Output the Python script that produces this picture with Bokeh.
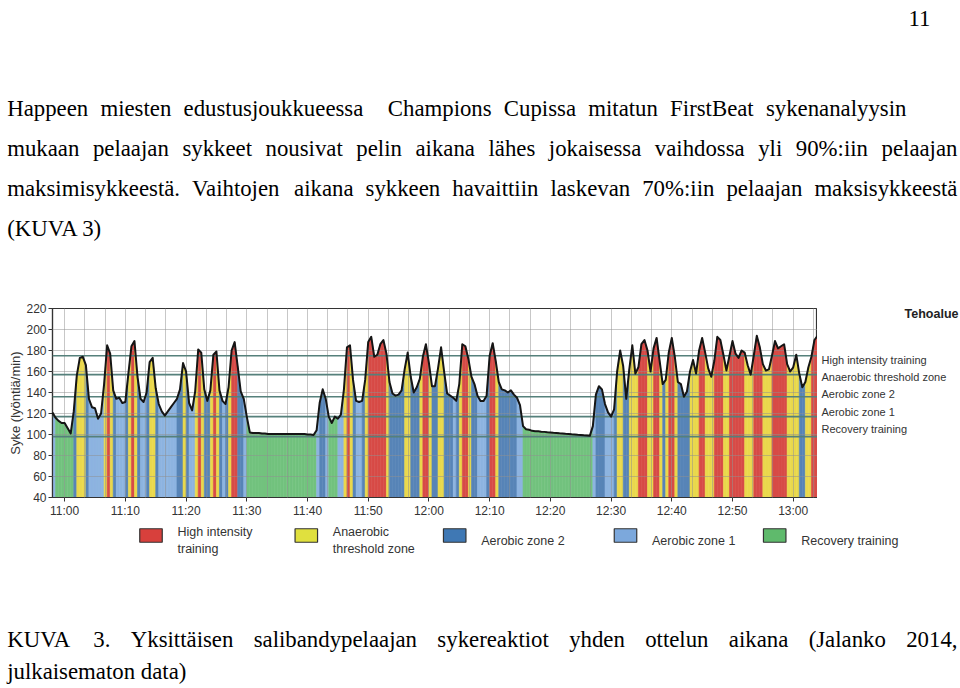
import numpy as np
from bokeh.plotting import figure
from bokeh.models import ColumnDataSource, Range1d, FixedTicker, Span
from bokeh.layouts import column, row
from bokeh.embed import file_html
from bokeh.resources import INLINE
from bokeh.core.properties import value

# ---------------- data ----------------
start_min = -2.0          # minutes relative to 11:00
step_min = 0.5
hr_pre  = [121, 116, 113, 111]
hr_1100 = [111, 106, 101, 122, 156, 173, 174, 166, 134, 126, 125, 115, 120, 148, 185, 177, 142, 134, 135, 130]
hr_1110 = [131, 158, 184, 189, 155, 134, 131, 140, 169, 173, 144, 129, 122, 118, 122, 126, 130, 134, 143, 168]
hr_1120 = [160, 130, 123, 141, 181, 178, 143, 132, 142, 176, 179, 142, 132, 129, 145, 180, 188, 165, 141, 134]
hr_1130 = [117, 102, 101.5, 101.5, 101.5, 101, 101, 100.5, 100.5, 100.5, 100.5, 100.5, 100.5, 100.5, 100.5,
           100.5, 100.5, 100.5, 100.5, 100.5]
hr_1140 = [100, 100, 99.5, 104, 130, 143, 134, 117, 111, 117, 115, 119, 143, 183, 185, 152, 132, 131, 132, 152]
hr_1150 = [188, 193, 174, 176, 186, 190, 177, 150, 139, 137, 138, 142, 162, 178, 155, 140, 145, 153, 174, 186]
hr_1200 = [168, 146, 146, 163, 183, 160, 139, 137, 135, 132, 148, 186, 184, 172, 155, 148, 137, 132, 132, 137]
hr_1210 = [175, 187, 170, 150, 143, 142, 140, 142, 138, 135, 128, 108, 105, 104.5, 103.5, 103.2, 103, 102.7,
           102.5, 102.2]
hr_1220 = [102, 101.7, 101.5, 101.2, 101, 100.7, 100.5, 100.2, 100, 99.7, 99.5, 99.2, 99, 98.7, 108, 138, 146,
           143, 129, 121]
hr_1230 = [117, 124, 160, 180, 165, 134, 162, 185, 158, 164, 186, 190, 180, 160, 182, 192, 170, 148, 152, 178]
hr_1240 = [192, 174, 150, 148, 136, 141, 160, 171, 158, 180, 192, 178, 163, 155, 170, 193, 190, 176, 161, 175]
hr_1250 = [189, 177, 173, 180, 178, 166, 157, 175, 194, 183, 167, 161, 162, 175, 189, 182, 184, 186, 167, 160]
hr_1300 = [164, 176, 158, 145, 150, 164, 174, 190, 194]

zone_names = ["High intensity training", "Anaerobic threshold zone", "Aerobic zone 2",
              "Aerobic zone 1", "Recovery training"]
zone_lower = [175, 157, 136, 117, 98]
legend_labels = ["High intensity\ntraining", "Anaerobic\nthreshold zone", "Aerobic zone 2",
                 "Aerobic zone 1", "Recovery training"]
tick_minutes = [0, 10, 20, 30, 40, 50, 60, 70, 80, 90, 100, 110, 120]
tick_labels = ["11:00", "11:10", "11:20", "11:30", "11:40", "11:50", "12:00", "12:10", "12:20",
               "12:30", "12:40", "12:50", "13:00"]
y_ticks = [40, 60, 80, 100, 120, 140, 160, 180, 200, 220]

para_lines = [
    "Happeen miesten edustusjoukkueessa  Champions Cupissa mitatun FirstBeat sykenanalyysin",
    "mukaan pelaajan sykkeet nousivat pelin aikana lähes jokaisessa vaihdossa yli 90%:iin pelaajan",
    "maksimisykkeestä. Vaihtojen aikana sykkeen havaittiin laskevan 70%:iin pelaajan maksisykkeestä",
    "(KUVA 3)",
]
caption_lines = [
    "KUVA 3. Yksittäisen salibandypelaajan sykereaktiot yhden ottelun aikana (Jalanko 2014,",
    "julkaisematon data)",
]
page_number = "11"

# ---------------- styles / layout ----------------
zone_colors = ["#d74b47", "#ead84c", "#5784b7", "#8db4e0", "#72c27e"]
legend_colors = ["#d8403c", "#e0e03e", "#3f78b4", "#7ca8dc", "#5fba6c"]
SANS = "Liberation Sans"
SERIF = "Liberation Serif"
TXT = "#333333"

W = 960
A_H, B_H, C_H = 298, 222, 168
B_W = 817
D_W = W - B_W
B_LEFT, B_TOP, B_BOTTOM = 52, 10, 23
X0, X1, Y0, Y1 = -2, 124, 40, 220

# Times / Liberation Serif advance widths (per 1000 em), used to justify lines
TIMES = dict(a=444, b=500, c=444, d=500, e=444, f=333, g=500, h=500, i=278, j=278, k=500, l=278, m=778,
             n=500, o=500, p=500, q=500, r=333, s=389, t=278, u=500, v=500, w=722, x=500, y=500, z=444,
             A=722, B=667, C=667, D=722, E=611, F=556, G=722, H=722, I=333, J=389, K=722, L=611, M=889,
             N=722, O=722, P=556, Q=722, R=667, S=556, T=611, U=722, V=722, W=944, X=722, Y=722, Z=611)
TIMES.update({"ä": 444, "ö": 500, ".": 250, ",": 250, ":": 278, "%": 833, "(": 333, ")": 333, " ": 250})
for dgt in "0123456789":
    TIMES[dgt] = 500

FS = 22.8
LEFT_MARGIN = 6.7


def place_words(line, x0, x1, y, fs, out):
    if x1 is None:
        out["x"].append(x0); out["y"].append(y); out["text"].append(line)
        return
    words = line.split(" ")
    widths = [sum(TIMES.get(ch, 500) for ch in w) * fs / 1000.0 for w in words]
    gap = (x1 - x0 - sum(widths)) / (len(words) - 1)
    x = x0
    for w, wd in zip(words, widths):
        if w:
            out["x"].append(x); out["y"].append(y); out["text"].append(w)
        x += wd + gap


def text_fig(w, h):
    f = figure(width=w, height=h, x_range=Range1d(0, w), y_range=Range1d(h, 0),
               x_axis_type=None, y_axis_type=None, toolbar_location=None,
               output_backend="svg", min_border=0, outline_line_color=None)
    f.grid.visible = False
    return f


# ---------------- top text ----------------
A = text_fig(W, A_H)
para = dict(x=[], y=[], text=[])
for ln, yy, xe in zip(para_lines, [108.3, 148.0, 188.0, 227.5], [906.0, 957.0, 957.0, None]):
    place_words(ln, LEFT_MARGIN, xe, yy, FS, para)
A.text(x="x", y="y", text="text", source=ColumnDataSource(para), text_font=value(SERIF),
       text_font_size=f"{FS}px", text_color="black", text_baseline="alphabetic", text_align="left")
A.text(x=[930], y=[18], text=[page_number], text_font=value(SERIF), text_font_size=f"{FS}px",
       text_color="black", text_baseline="alphabetic", text_align="right")

# ---------------- chart ----------------
hr = np.array(hr_pre + hr_1100 + hr_1110 + hr_1120 + hr_1130 + hr_1140 + hr_1150 + hr_1200 +
              hr_1210 + hr_1220 + hr_1230 + hr_1240 + hr_1250 + hr_1300, dtype=float)
t = start_min + step_min * np.arange(len(hr))


def zone_of(v):
    for i, lo in enumerate(zone_lower):
        if v >= lo:
            return i
    return len(zone_lower) - 1


seg = dict(xs=[], ys=[], color=[])
for i in range(len(hr) - 1):
    seg["xs"].append([t[i], t[i], t[i + 1], t[i + 1]])
    seg["ys"].append([Y0, hr[i], hr[i + 1], Y0])
    seg["color"].append(zone_colors[zone_of(0.5 * (hr[i] + hr[i + 1]))])

B = figure(width=B_W, height=B_H, x_range=Range1d(X0, X1), y_range=Range1d(Y0, Y1),
           toolbar_location=None, output_backend="svg",
           min_border_left=B_LEFT, min_border_right=0, min_border_top=B_TOP, min_border_bottom=B_BOTTOM)
B.patches(xs="xs", ys="ys", fill_color="color", line_color="color", line_width=0.6,
          source=ColumnDataSource(seg))

B.xaxis.ticker = FixedTicker(ticks=tick_minutes)
B.xaxis.major_label_overrides = {m: lab for m, lab in zip(tick_minutes, tick_labels)}
B.yaxis.ticker = FixedTicker(ticks=y_ticks)
B.xgrid.ticker = FixedTicker(ticks=[k * 10.0 / 3.0 for k in range(0, 38)])
B.grid.grid_line_color = "#8f8f8f"
B.grid.grid_line_alpha = 0.5
B.grid.grid_line_width = 1
B.grid.level = "guide"

for v in zone_lower:
    B.add_layout(Span(location=v, dimension="width", line_color="#55807b", line_width=1.6))

hr_line = B.line(t, hr, line_color="#151515", line_width=2, line_join="round")
hr_line.level = "overlay"

B.axis.axis_line_color = "#333333"
B.axis.axis_line_width = 1.2
B.axis.major_tick_line_color = "#333333"
B.axis.major_tick_out = 4
B.axis.major_tick_in = 0
B.axis.minor_tick_line_color = None
B.axis.major_label_text_font = SANS
B.axis.major_label_text_font_size = "12px"
B.axis.major_label_text_color = TXT
B.axis.major_label_standoff = 2
B.yaxis.axis_label = "Syke (lyöntiä/min)"
B.yaxis.axis_label_text_font = SANS
B.yaxis.axis_label_text_font_size = "13px"
B.yaxis.axis_label_text_font_style = "normal"
B.yaxis.axis_label_text_color = TXT
B.yaxis.axis_label_standoff = 0
B.outline_line_color = "#333333"
B.outline_line_width = 1.2

# ---------------- right legend ----------------
D = text_fig(D_W, B_H)
D.text(x=[4] * len(zone_names), y=[61, 81, 101, 121, 141], text=zone_names, text_font=value(SANS),
       text_font_size="11px", text_color=TXT, text_baseline="middle", text_align="left")
D.text(x=[141], y=[6], text=["Tehoalue"], text_font=value(SANS), text_font_size="12.5px",
       text_font_style="bold", text_color="#222222", text_baseline="middle", text_align="right")

# ---------------- bottom legend + caption ----------------
C = text_fig(W, C_H)
legend_x = [150.5, 305.8, 454.2, 625.0, 774.2]
C.rect(x=legend_x, y=[15] * 5, width=22.5, height=13.5, fill_color=legend_colors,
       line_color="#333333", line_width=1.2)
C.text(x=[lx + 26.5 for lx in legend_x], y=[20] * 5, text=legend_labels, text_font=value(SANS),
       text_font_size="12.5px", text_color=TXT, text_baseline="middle", text_align="left",
       text_line_height=1.2)
cap = dict(x=[], y=[], text=[])
for ln, yy, xe in zip(caption_lines, [119.0, 151.0], [957.0, None]):
    place_words(ln, LEFT_MARGIN, xe, yy, FS, cap)
C.text(x="x", y="y", text="text", source=ColumnDataSource(cap), text_font=value(SERIF),
       text_font_size=f"{FS}px", text_color="black", text_baseline="alphabetic", text_align="left")

layout = column(A, row(B, D), C)
open("out.html", "w").write(file_html(layout, INLINE))
